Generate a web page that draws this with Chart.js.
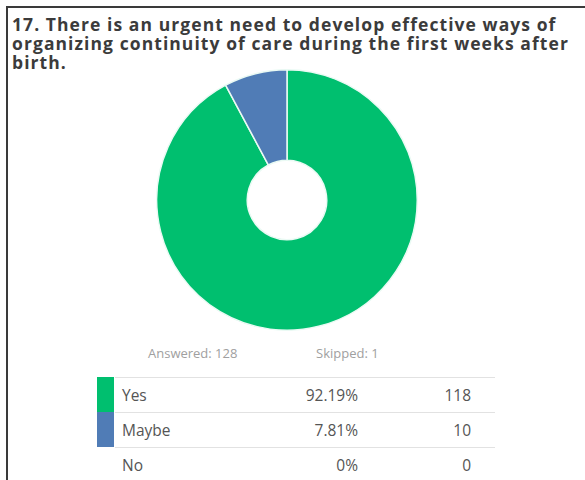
<!DOCTYPE html>
<html>
<head>
<meta charset="utf-8">
<script src="https://cdn.jsdelivr.net/npm/chart.js@4.4.0/dist/chart.umd.min.js"></script>
<style>
  body { margin:0; background:#fff; width:585px; height:480px; overflow:hidden; position:relative; font-family:"Open Sans", sans-serif; }
  #frame { position:absolute; left:6px; top:6px; width:600px; height:500px; border-left:2px solid #3a3a3a; border-top:2px solid #3a3a3a; }
  #title { position:absolute; left:12px; top:15px; font-weight:700; font-size:17.5px; line-height:19px; color:#3b3b3b; }
  #title div { white-space:nowrap; }
  #pieWrap { position:absolute; left:156px; top:69px; width:262px; height:262px; }
  .stat { position:absolute; top:344px; white-space:nowrap; font-size:13px; color:#a0a0a0; }
  #table { position:absolute; left:97px; top:377px; width:398px; }
  .row { position:relative; height:35px; }
  .row .line { position:absolute; left:18px; right:0; top:0; border-top:1px solid #e2e2e2; }
  .row .swatch { position:absolute; left:0; top:0; width:17px; height:35px; }
  .row .lbl { position:absolute; left:25px; top:7px; font-size:15.5px; color:#555; }
  .row .pct { position:absolute; right:137px; top:7px; font-size:15.5px; color:#555; }
  .row .cnt { position:absolute; right:24px; top:7px; font-size:15.5px; color:#555; }
</style>
</head>
<body>
<div id="frame"></div>
<div id="title"></div>
<div id="pieWrap"><canvas id="pieChart"></canvas></div>
<span class="stat" id="answered" style="left:148px"></span>
<span class="stat" id="skipped" style="left:316px"></span>
<div id="table"></div>
<script>
// answer choices and responses
var choices = ["Yes", "Maybe", "No"];
var counts = [118, 10, 0];
var percents = ["92.19%", "7.81%", "0%"];
var colors = ["#00bf6f", "#507cb6", "#d7d7d7"];
var answered = 128;
var skipped = 1;
var titleLines = [
  "17. There is an urgent need to develop effective ways of",
  "organizing continuity of care during the first weeks after",
  "birth."
];
// width each title line should take
var titleWidths = [546, 566, 0];

var titleDiv = document.getElementById("title");
for (var t = 0; t < titleLines.length; t++) {
  var ln = document.createElement("div");
  ln.textContent = titleLines[t];
  titleDiv.appendChild(ln);
}
// stretch the bold title a little so the long lines end where they should
var spacing = 0, n = 0;
for (var t = 0; t < 2; t++) {
  var w = titleDiv.children[t].getBoundingClientRect().width;
  spacing += (titleWidths[t] - w) / titleLines[t].length;
  n++;
}
titleDiv.style.letterSpacing = (spacing / n) + "px";

document.getElementById("answered").textContent = "Answered: " + answered;
document.getElementById("skipped").textContent = "Skipped: " + skipped;

var rows = "";
for (var i = 0; i < choices.length; i++) {
  var sw = counts[i] > 0 ? '<div class="swatch" style="background:' + colors[i] + '"></div>' : '';
  rows += '<div class="row"><div class="line"></div>' + sw +
    '<span class="lbl">' + choices[i] + '</span>' +
    '<span class="pct">' + percents[i] + '</span>' +
    '<span class="cnt">' + counts[i] + '</span></div>';
}
rows += '<div class="row"><div class="line"></div></div>';
document.getElementById("table").innerHTML = rows;

var pieDiv = document.getElementById("pieChart");
var pieChart = new Chart(pieDiv, {
  type: "doughnut",
  data: {
    labels: choices,
    datasets: [{
      data: counts,
      backgroundColor: colors,
      borderColor: "#eafaf4",
      borderWidth: 1.5
    }]
  },
  options: {
    responsive: true,
    maintainAspectRatio: false,
    animation: false,
    cutout: "30.5%",
    layout: { padding: 0 },
    plugins: {
      legend: { display: false },
      tooltip: { enabled: false }
    }
  }
});
</script>
</body>
</html>
